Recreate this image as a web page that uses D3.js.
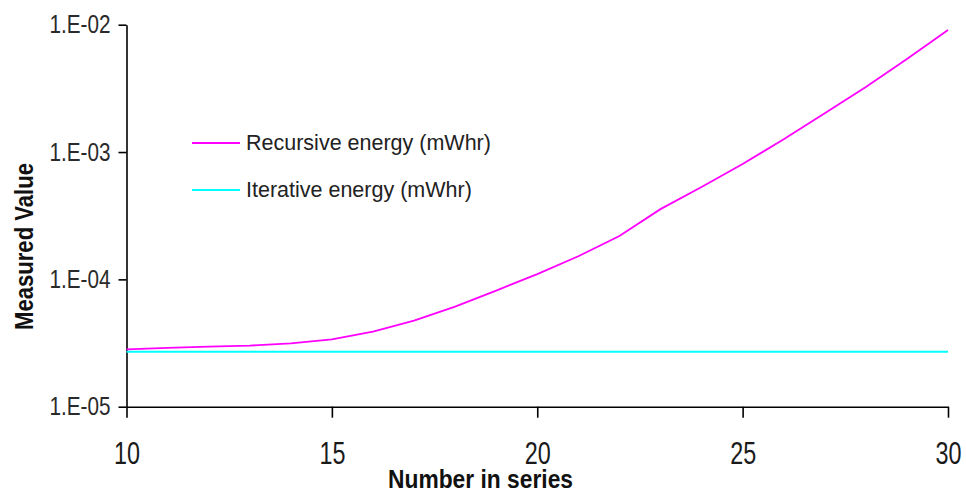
<!DOCTYPE html>
<html>
<head>
<meta charset="utf-8">
<script src="https://cdn.jsdelivr.net/npm/d3@7"></script>
<style>
  body { margin: 0; background: #fff; }
  svg { display: block; }
</style>
</head>
<body>
<div id="chart"></div>
<script>
// data
const nValues = [10, 11, 12, 13, 14, 15, 16, 17, 18, 19, 20, 21, 22, 23, 24, 25, 26, 27, 28, 29, 30];
const recursiveEnergy = [2.82e-5, 2.90e-5, 2.96e-5, 3.02e-5, 3.14e-5, 3.38e-5, 3.89e-5, 4.74e-5, 6.11e-5, 8.17e-5,
                         1.10e-4, 1.52e-4, 2.19e-4, 3.56e-4, 5.31e-4, 8.05e-4, 1.26e-3, 2.02e-3, 3.24e-3, 5.38e-3, 9.08e-3];
const iterativeEnergy = [2.70e-5, 2.70e-5, 2.70e-5, 2.70e-5, 2.70e-5, 2.70e-5, 2.70e-5, 2.70e-5, 2.70e-5, 2.70e-5,
                         2.70e-5, 2.70e-5, 2.70e-5, 2.70e-5, 2.70e-5, 2.70e-5, 2.70e-5, 2.70e-5, 2.70e-5, 2.70e-5, 2.70e-5];
const seriesNames = ["Recursive energy (mWhr)", "Iterative energy (mWhr)"];
const seriesColors = ["#ff00ff", "#00ffff"];
const xTicks = [10, 15, 20, 25, 30];
const yTicks = [1e-5, 1e-4, 1e-3, 1e-2];

const W = 966, H = 495;
const margin = {top: 24.7, right: 18, bottom: 88.3, left: 126.5},
  width = W - margin.left - margin.right,
  height = H - margin.top - margin.bottom;

const narrow = "'Liberation Sans Narrow', 'Arial Narrow', 'Liberation Sans', Arial, sans-serif";
const regular = "'Liberation Sans', Arial, sans-serif";

const svg = d3.select("#chart")
  .append("svg")
    .attr("width", W)
    .attr("height", H);

const g = svg.append("g")
  .attr("transform", `translate(${margin.left}, ${margin.top})`);

const x = d3.scaleLinear()
  .domain([10, 30])
  .range([0, width]);

const y = d3.scaleLog()
  .domain([1e-5, 1e-2])
  .range([height, 0]);

// X axis
const xAxis = g.append("g")
  .attr("transform", `translate(0, ${height})`)
  .call(d3.axisBottom(x).tickValues(xTicks).tickSize(11).tickPadding(24).tickSizeOuter(0));
xAxis.select(".domain").attr("stroke", "#000").attr("stroke-width", 1.6);
xAxis.selectAll(".tick line").attr("stroke", "#000").attr("stroke-width", 1.6);
xAxis.selectAll(".tick text")
  .style("font-family", narrow)
  .style("font-size", "32px")
  .attr("textLength", 26)
  .attr("lengthAdjust", "spacingAndGlyphs")
  .attr("fill", "#1a1a1a");

// Y axis
const yFmt = d => "1.E-" + String(-Math.round(Math.log10(d))).padStart(2, "0");
const yAxis = g.append("g")
  .call(d3.axisLeft(y).tickValues(yTicks).tickFormat(yFmt).tickSize(8).tickPadding(8).tickSizeOuter(0));
yAxis.select(".domain").attr("stroke", "#000").attr("stroke-width", 1.6);
yAxis.selectAll(".tick line").attr("stroke", "#000").attr("stroke-width", 1.6);
yAxis.selectAll(".tick text")
  .style("font-family", narrow)
  .style("font-size", "25px")
  .attr("textLength", 61)
  .attr("lengthAdjust", "spacingAndGlyphs")
  .attr("fill", "#2a2a2a");

// lines
const line = d3.line()
  .x((d, i) => x(nValues[i]))
  .y(d => y(d));

g.append("path")
  .datum(iterativeEnergy)
  .attr("fill", "none")
  .attr("stroke", seriesColors[1])
  .attr("stroke-width", 2)
  .attr("d", line);

g.append("path")
  .datum(recursiveEnergy)
  .attr("fill", "none")
  .attr("stroke", seriesColors[0])
  .attr("stroke-width", 1.8)
  .attr("d", line);

// legend
const legend = svg.append("g");
seriesNames.forEach((name, i) => {
  const ly = 143 + i * 47;
  legend.append("line")
    .attr("x1", 192).attr("x2", 240)
    .attr("y1", ly).attr("y2", ly)
    .attr("stroke", seriesColors[i])
    .attr("stroke-width", 2);
  legend.append("text")
    .attr("x", 246)
    .attr("y", ly + 7)
    .text(name)
    .style("font-family", regular)
    .style("font-size", "21.5px")
    .attr("fill", "#222");
});

// X axis label
svg.append("text")
  .attr("text-anchor", "middle")
  .attr("x", 480.5)
  .attr("y", 488)
  .attr("textLength", 185)
  .attr("lengthAdjust", "spacingAndGlyphs")
  .text("Number in series")
  .style("font-family", narrow)
  .style("font-weight", "bold")
  .style("font-size", "25px")
  .attr("fill", "#111");

// Y axis label
svg.append("text")
  .attr("text-anchor", "middle")
  .attr("transform", "translate(33, 246.5) rotate(-90)")
  .attr("textLength", 167)
  .attr("lengthAdjust", "spacingAndGlyphs")
  .text("Measured Value")
  .style("font-family", narrow)
  .style("font-weight", "bold")
  .style("font-size", "26px")
  .attr("fill", "#111");
</script>
</body>
</html>
